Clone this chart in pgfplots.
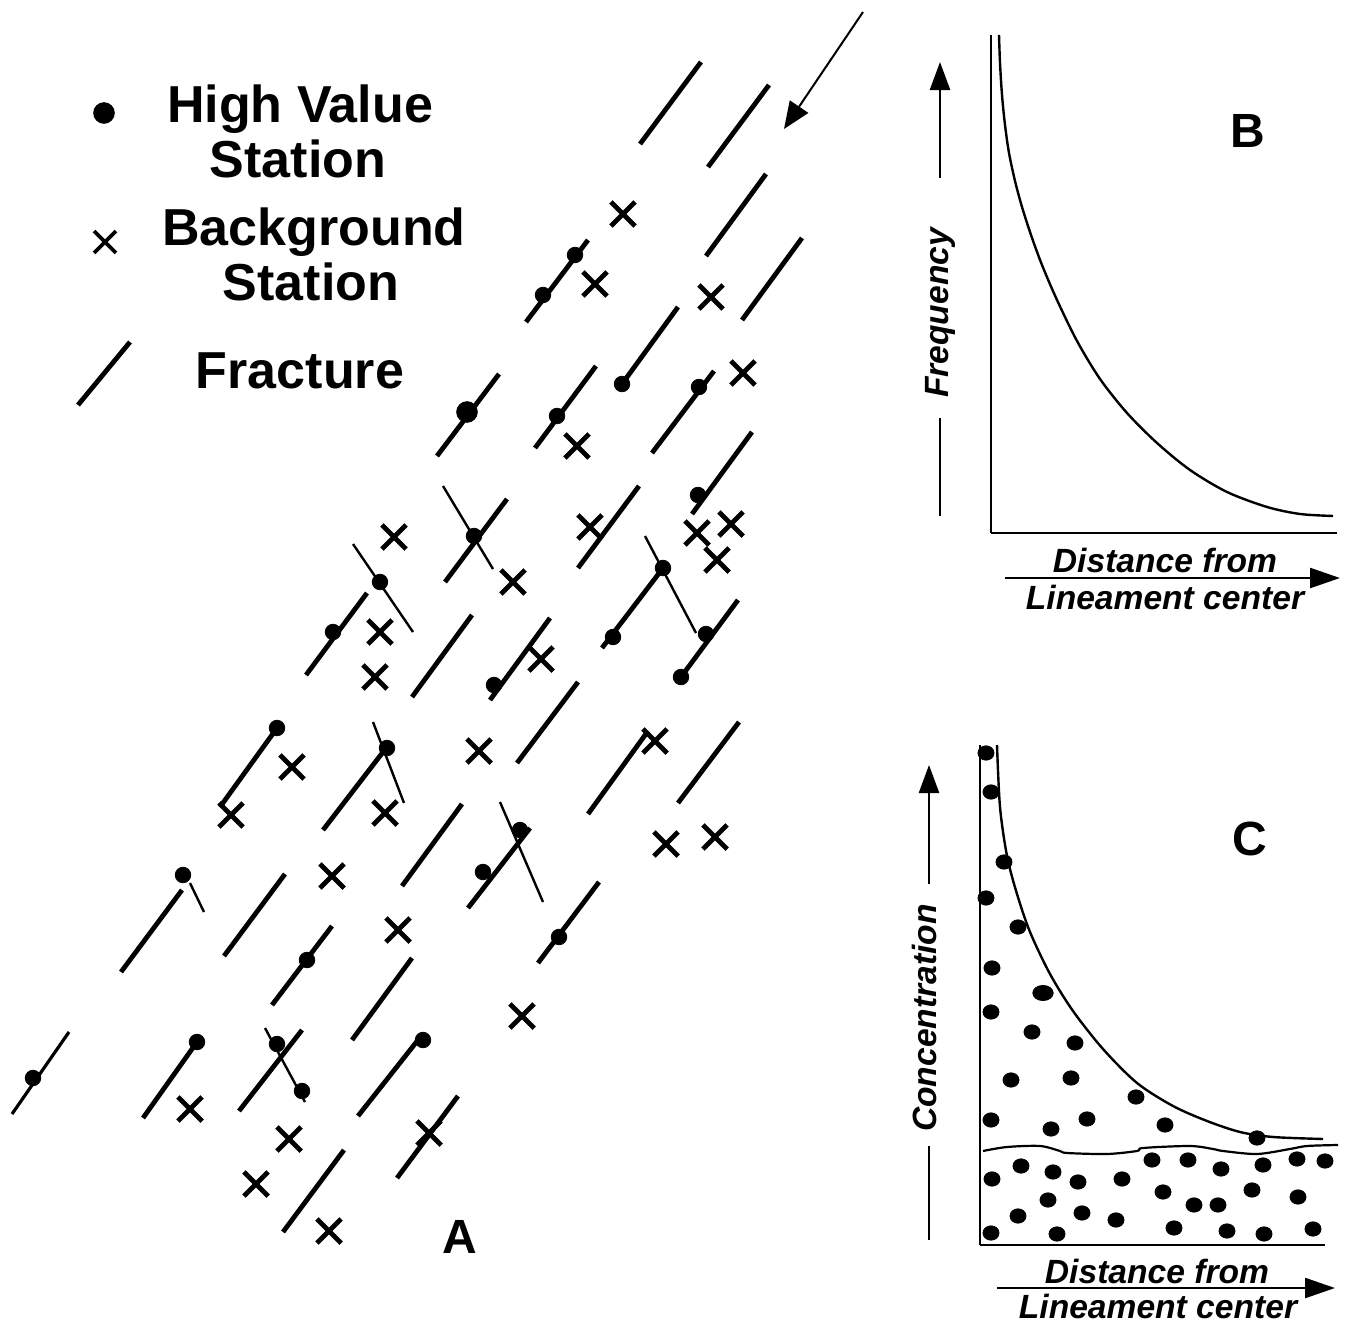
\documentclass[border=0pt]{standalone}
\usepackage{fontspec}
\setmainfont{Liberation Sans}
\usepackage{pgfplots}
\pgfplotsset{compat=1.18}
\usetikzlibrary{arrows.meta}

\newcommand{\legfont}{\fontsize{26bp}{28bp}\selectfont\bfseries}
\newcommand{\panfont}{\fontsize{24bp}{26bp}\selectfont\bfseries}
\newcommand{\labfont}{\fontsize{16.8bp}{18bp}\selectfont\bfseries\itshape}

\begin{document}
\begin{tikzpicture}
\useasboundingbox (0,0) rectangle (673bp,662bp);

% panel A, in pixel units of the original (y downwards)
\begin{axis}[
  at={(0,0)}, anchor=south west,
  scale only axis, width=673bp, height=662bp,
  xmin=0, xmax=1346, ymin=0, ymax=1324, y dir=reverse,
  enlargelimits=false, hide axis, clip=false,
  unbounded coords=jump,
]
% fractures
\addplot[black, no marks, line width=2.4bp] coordinates {
 (640,144) (701,62) (nan,nan)
 (708,167) (769,85) (nan,nan)
 (706,256) (766,174) (nan,nan)
 (742,320) (802,238) (nan,nan)
 (526,322) (588,240) (nan,nan)
 (622,384) (678,307) (nan,nan)
 (437,456) (499,374) (nan,nan)
 (535,448) (596,366) (nan,nan)
 (652,453) (714,371) (nan,nan)
 (692,514) (752,432) (nan,nan)
 (445,582) (507,499) (nan,nan)
 (578,568) (639,486) (nan,nan)
 (602,648) (663,568) (nan,nan)
 (681,677) (738,600) (nan,nan)
 (412,697) (472,615) (nan,nan)
 (490,700) (550,618) (nan,nan)
 (306,675) (367,593) (nan,nan)
 (220,807) (277,728) (nan,nan)
 (323,830) (383,752) (nan,nan)
 (121,972) (182,890) (nan,nan)
 (224,956) (285,874) (nan,nan)
 (402,886) (462,804) (nan,nan)
 (272,1005) (332,926) (nan,nan)
 (352,1040) (412,958) (nan,nan)
 (517,763) (578,682) (nan,nan)
 (588,814) (648,731) (nan,nan)
 (678,803) (739,722) (nan,nan)
 (468,908) (530,828) (nan,nan)
 (538,963) (599,882) (nan,nan)
 (143,1118) (197,1042) (nan,nan)
 (239,1111) (302,1030) (nan,nan)
 (283,1232) (344,1150) (nan,nan)
 (358,1116) (418,1040) (nan,nan)
 (397,1178) (458,1096) (nan,nan)
 (78,405) (130,342)
};
\addplot[black, no marks, line width=1.6bp] coordinates {(12,1114) (69,1032)};
% thin cross fractures
\addplot[black, no marks, line width=1.2bp] coordinates {
 (443,486) (493,569) (nan,nan)
 (353,544) (413,632) (nan,nan)
 (645,536) (696,633) (nan,nan)
 (373,722) (404,803) (nan,nan)
 (190,883) (204,912) (nan,nan)
 (500,802) (543,902) (nan,nan)
 (265,1028) (305,1102)
};
% high value stations
\addplot[black, only marks, mark=*, mark size=3.9pt] coordinates {
 (543,295) (575,255) (622,384) (557,416) (699,387) (698,495) (474,536)
 (380,582) (333,632) (663,568) (613,637) (706,634) (681,677) (494,685)
 (277,728) (387,748) (520,830) (483,872) (183,875) (559,937) (307,960)
 (33,1078) (197,1042) (277,1044) (302,1091) (423,1040)
};
\addplot[black, only marks, mark=*, mark size=5.2pt] coordinates {(467,412) (104,113)};
% background stations
\addplot[black, only marks, mark=x, mark size=8.6pt, mark options={line width=2.4bp}] coordinates {
 (623,214) (595,284) (711,297) (743,373) (577,446) (394,537) (590,527)
 (697,533) (731,524) (717,560) (513,582) (380,632) (375,677) (541,659)
 (479,751) (655,741) (292,767) (231,815) (385,813) (332,876) (666,844)
 (715,837) (398,930) (522,1016) (190,1109) (289,1139) (256,1184)
 (329,1231) (429,1133)
};
\addplot[black, only marks, mark=x, mark size=7.8pt, mark options={line width=1.8bp}] coordinates {(105,242)};
% stress arrow
\addplot[black, no marks, line width=1bp, -{Triangle[length=13.5bp,width=11bp]}] coordinates {(863,12) (784,129)};
% axis label arrows of B and C
\addplot[black, no marks, line width=1.2bp, -{Triangle[length=14bp,width=10bp]}] coordinates {(940,178) (940,62)};
\addplot[black, no marks, line width=1.2bp] coordinates {(940,418) (940,516)};
\addplot[black, no marks, line width=1.2bp, -{Triangle[length=15bp,width=10bp]}] coordinates {(1005,578) (1340,578)};
\addplot[black, no marks, line width=1.2bp, -{Triangle[length=14bp,width=10bp]}] coordinates {(929,884) (929,765)};
\addplot[black, no marks, line width=1.2bp] coordinates {(929,1146) (929,1240)};
\addplot[black, no marks, line width=1.2bp, -{Triangle[length=15bp,width=10bp]}] coordinates {(997,1288) (1335,1288)};

% legend and panel texts
\node[anchor=base, font=\legfont] at (axis cs:300,122) {High Value};
\node[anchor=base, font=\legfont] at (axis cs:298,177) {Station};
\node[anchor=base, font=\legfont] at (axis cs:314,245) {Background};
\node[anchor=base, font=\legfont] at (axis cs:311,300) {Station};
\node[anchor=base, font=\legfont] at (axis cs:300,388) {Fracture};
\node[anchor=base, font=\panfont] at (axis cs:460,1253) {A};
\node[anchor=base, font=\panfont] at (axis cs:1248,147) {B};
\node[anchor=base, font=\panfont] at (axis cs:1250,855) {C};
\node[anchor=base, rotate=90, font=\labfont] at (axis cs:948,313) {Frequency};
\node[anchor=base, rotate=90, font=\labfont] at (axis cs:936,1018) {Concentration};
\node[anchor=base, font=\labfont] at (axis cs:1165,572) {Distance from};
\node[anchor=base, font=\labfont] at (axis cs:1165,609) {Lineament center};
\node[anchor=base, font=\labfont] at (axis cs:1157,1283) {Distance from};
\node[anchor=base, font=\labfont] at (axis cs:1158,1318) {Lineament center};
\end{axis}

% panel B: frequency against distance
\begin{axis}[
  at={(495.5bp,395.5bp)}, anchor=south west,
  scale only axis, width=173bp, height=249bp,
  xmin=0, xmax=346, ymin=0, ymax=498, enlargelimits=false,
  axis lines=left, axis line style={-, line width=1.3bp},
  ticks=none, clip=false,
]
\addplot[black, no marks, line width=1.2bp, smooth] coordinates {
 (8,498) (9,470) (11,438) (14,408) (18,380) (24,352) (31,326) (40,298)
 (51,268) (66,233) (86,192) (109,154) (136,120) (166,90) (199,63)
 (236,41) (276,26) (309,19) (342,17)
};
\end{axis}

% panel C: concentration against distance
\begin{axis}[
  at={(490bp,39.5bp)}, anchor=south west,
  scale only axis, width=172.5bp, height=250bp,
  xmin=0, xmax=345, ymin=0, ymax=500, enlargelimits=false,
  axis lines=left, axis line style={-, line width=1.3bp},
  ticks=none, clip=false,
]
\addplot[black, no marks, line width=1.2bp, smooth] coordinates {
 (17,500) (20,438) (27,389) (37,351) (50,313) (70,271) (93,234) (123,196)
 (157,162) (193,139) (227,124) (260,113) (293,108) (343,106)
};
\addplot[black, no marks, line width=1.1bp, smooth] coordinates {
 (3,94) (27,98) (60,99) (80,94) (87,92) (127,91) (157,94) (163,97)
 (210,99) (233,96) (243,94) (277,91) (310,96) (327,99) (358,100)
};
\addplot[black, only marks, mark=*, mark size=3.6pt, mark options={xscale=1.12}] coordinates {
 (6,492) (11,453) (24,383) (6,347) (38,318) (12,277) (11,233)
 (52,213) (95,202) (31,165) (91,167) (156,148) (11,125) (71,116) (107,126)
 (185,120) (277,107)
 (12,66) (41,79) (73,73) (98,63) (142,66) (172,85) (208,85) (241,76)
 (283,80) (317,86) (345,84) (68,45) (183,53) (214,40) (238,40) (272,55)
 (318,48) (38,29) (102,32) (136,25) (194,17) (247,14) (284,11) (333,16)
 (11,12) (77,11)
};
\addplot[black, only marks, mark=*, mark size=3.8pt, mark options={xscale=1.35}] coordinates {(63,252)};
\end{axis}
\end{tikzpicture}
\end{document}
